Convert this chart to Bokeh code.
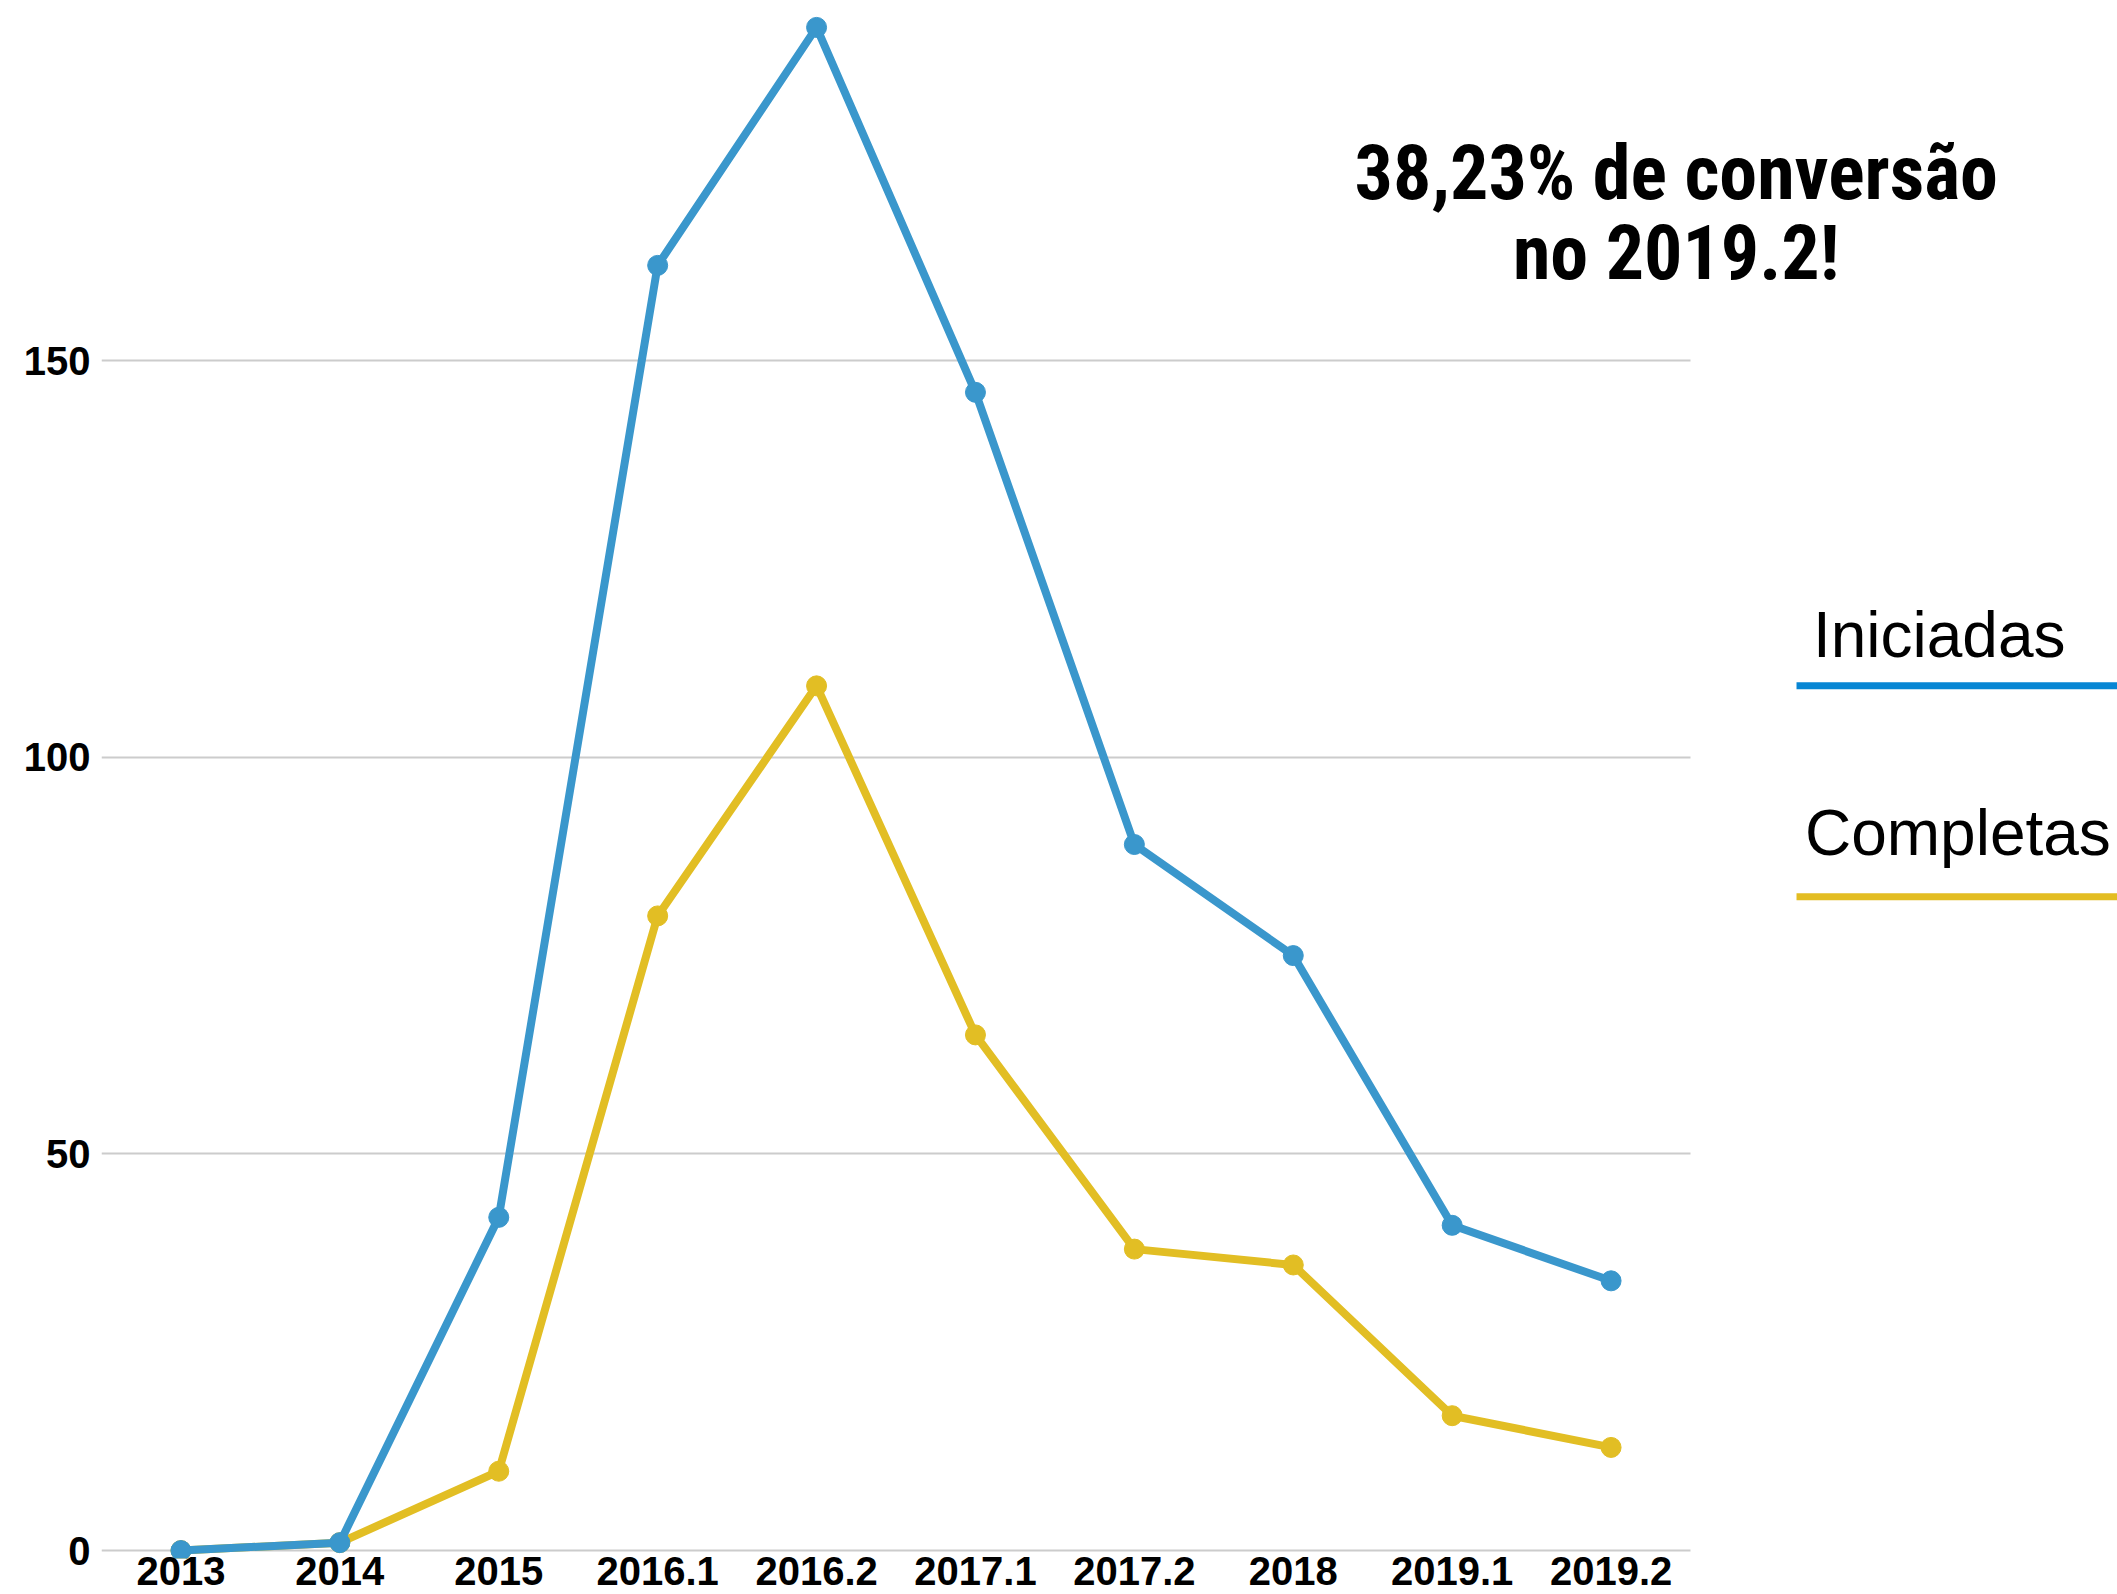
from bokeh.plotting import figure
from bokeh.models import Range1d, Label, Arrow, FixedTicker
from bokeh.embed import file_html
from bokeh.resources import INLINE

categories = ["2013", "2014", "2015", "2016.1", "2016.2", "2017.1", "2017.2", "2018", "2019.1", "2019.2"]
iniciadas = [0, 1, 42, 162, 192, 146, 89, 75, 41, 34]
completas = [0, 1, 10, 80, 109, 65, 38, 36, 17, 13]
y_ticks = [0, 50, 100, 150]
title_lines = ["38,23% de conversão", "no 2019.2!"]
series_names = ["Iniciadas", "Completas"]

BLUE = "#3a97cc"
YELLOW = "#e2be24"
LEG_BLUE = "#0786d4"
LEG_YELLOW = "#e3bd22"

# category slots: each category occupies one unit, centred at i + 0.5
xs = [i + 0.5 for i in range(len(categories))]
n_cat = len(categories)

p = figure(
    x_range=Range1d(0, 12.687),
    y_range=Range1d(-1.0, 195.39),
    width=2117, height=1594,
    min_border_left=101, min_border_right=0, min_border_top=0, min_border_bottom=36,
    output_backend="svg", toolbar_location=None,
    background_fill_color="white", border_fill_color="white",
)
p.outline_line_color = None

# x axis with category labels
p.xaxis.ticker = FixedTicker(ticks=xs)
p.xaxis.major_label_overrides = {x: c for x, c in zip(xs, categories)}
p.xaxis.axis_line_color = None
p.xaxis.major_tick_line_color = None
p.xaxis.minor_tick_line_color = None
p.xaxis.major_label_text_font = "Liberation Sans"
p.xaxis.major_label_text_font_style = "bold"
p.xaxis.major_label_text_font_size = "40px"
p.xaxis.major_label_text_color = "black"
p.xaxis.major_label_text_line_height = 0.8
p.xaxis.major_label_standoff = -2
p.xaxis.major_tick_out = 0
p.xaxis.major_tick_in = 0

p.yaxis.ticker = FixedTicker(ticks=y_ticks)
p.yaxis.axis_line_color = None
p.yaxis.major_tick_line_color = None
p.yaxis.minor_tick_line_color = None
p.yaxis.major_label_text_font = "Liberation Sans"
p.yaxis.major_label_text_font_style = "bold"
p.yaxis.major_label_text_font_size = "40px"
p.yaxis.major_label_text_color = "black"
p.yaxis.major_label_standoff = 11
p.yaxis.major_tick_out = 0
p.yaxis.major_tick_in = 0

p.xgrid.grid_line_color = None
p.ygrid.grid_line_color = "#cccccc"
p.ygrid.grid_line_width = 2
p.ygrid.cross_bounds = (0, n_cat)

# series
p.line(xs, completas, line_color=YELLOW, line_width=8)
p.scatter(xs, completas, size=20, fill_color=YELLOW, line_color=YELLOW)
p.line(xs, iniciadas, line_color=BLUE, line_width=8)
p.scatter(xs, iniciadas, size=20, fill_color=BLUE, line_color=BLUE)

# title text
title_font = "'Roboto Condensed', 'Liberation Sans Narrow', 'Liberation Sans'"
p.add_layout(Label(x=9.91, y=173.7, text=title_lines[0], text_align="center",
                   text_baseline="alphabetic", text_font=title_font, text_font_style="bold",
                   text_font_size="76px", text_color="black"))
p.add_layout(Label(x=9.91, y=163.5, text=title_lines[1], text_align="center",
                   text_baseline="alphabetic", text_font=title_font, text_font_style="bold",
                   text_font_size="76px", text_color="black"))

# legend
p.add_layout(Label(x=10.77, y=115.4, text=series_names[0], text_align="left",
                   text_baseline="alphabetic", text_font="Liberation Sans",
                   text_font_size="64px", text_color="black"))
p.add_layout(Arrow(end=None, x_start=10.667, y_start=109.0, x_end=13.0, y_end=109.0,
                   line_color=LEG_BLUE, line_width=7))
p.add_layout(Label(x=10.72, y=90.4, text=series_names[1], text_align="left",
                   text_baseline="alphabetic", text_font="Liberation Sans",
                   text_font_size="64px", text_color="black"))
p.add_layout(Arrow(end=None, x_start=10.667, y_start=82.4, x_end=13.0, y_end=82.4,
                   line_color=LEG_YELLOW, line_width=7))

open("out.html", "w").write(file_html(p, INLINE))
